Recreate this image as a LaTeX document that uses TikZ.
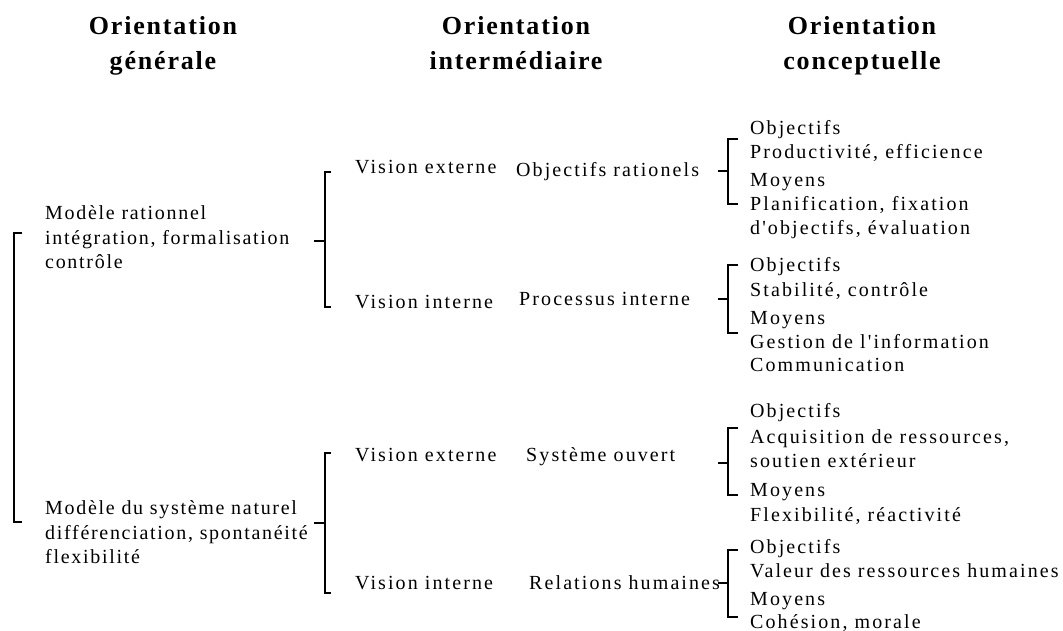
\documentclass[tikz,border=0pt]{standalone}
\usepackage{fontspec}
\setmainfont{Liberation Serif}[LetterSpace=10.5,Ligatures=TeXOff]
\newfontfamily\leftfont{Liberation Serif}[LetterSpace=8.5]
\newfontfamily\headfont{Liberation Serif}[LetterSpace=7]
\tikzset{
  txt/.style={inner sep=0, anchor=base west, font=\fontsize{20}{22}\selectfont},
  ltxt/.style={txt, font=\leftfont\fontsize{20}{22}\selectfont},
  head/.style={inner sep=0, anchor=base, font=\headfont\bfseries\fontsize{26}{30}\selectfont},
  brk/.style={line width=2.8pt}
}
\begin{document}
\begin{tikzpicture}[x=1pt,y=-1pt]
\useasboundingbox (0,0) rectangle (1063,631);

% Headings
\node[head] (h1a) at (163,35) {Orientation};
\node[head] (h1b) at (163,70) {générale};
\node[head] (h2a) at (516,35) {Orientation};
\node[head] (h2b) at (516,70) {intermédiaire};
\node[head] (h3a) at (862,35) {Orientation};
\node[head] (h3b) at (862,70) {conceptuelle};

% Left column
\node[ltxt] (rat1) at (45,220) {Modèle rationnel};
\node[ltxt] (rat2) at (45,244) {intégration, formalisation};
\node[ltxt] (rat3) at (45,269) {contrôle};
\node[ltxt] (nat1) at (45,514) {Modèle du système naturel};
\node[ltxt] (nat2) at (45,539) {différenciation, spontanéité};
\node[ltxt] (nat3) at (45,563) {flexibilité};

% Middle column
\node[txt] (ve1) at (355,174) {Vision externe};
\node[txt] (vi1) at (355,308) {Vision interne};
\node[txt] (ve2) at (355,461) {Vision externe};
\node[txt] (vi2) at (355,589) {Vision interne};
\node[txt] (orat) at (516,177) {Objectifs rationels};
\node[txt] (proc) at (519,305) {Processus interne};
\node[txt] (sysv) at (526,461) {Système ouvert};
\node[txt] (relh) at (529,589) {Relations humaines};

% Right column
\node[txt] (a1) at (750,135) {Objectifs};
\node[txt] (a2) at (750,159) {Productivité, efficience};
\node[txt] (a3) at (750,187) {Moyens};
\node[txt] (a4) at (750,211) {Planification, fixation};
\node[txt] (a5) at (750,235) {d'objectifs, évaluation};

\node[txt] (b1) at (750,272) {Objectifs};
\node[txt] (b2) at (750,296) {Stabilité, contrôle};
\node[txt] (b3) at (750,324) {Moyens};
\node[txt] (b4) at (750,348) {Gestion de l'information};
\node[txt] (b5) at (750,371) {Communication};

\node[txt] (c1) at (750,417) {Objectifs};
\node[txt] (c2) at (750,443) {Acquisition de ressources,};
\node[txt] (c3) at (750,467) {soutien extérieur};
\node[txt] (c4) at (750,496) {Moyens};
\node[txt] (c5) at (750,521) {Flexibilité, réactivité};

\node[txt] (d1) at (750,553) {Objectifs};
\node[txt] (d2) at (750,577) {Valeur des ressources humaines};
\node[txt] (d3) at (750,605) {Moyens};
\node[txt] (d4) at (750,628) {Cohésion, morale};

% Brackets
\draw[brk] (22,233) -- (14,233) -- (14,522) -- (22,522);

\draw[brk] (331,172) -- (325,172) -- (325,307) -- (331,307);
\draw[brk] (314,241) -- (325,241);
\draw[brk] (331,453) -- (325,453) -- (325,593) -- (331,593);
\draw[brk] (314,523) -- (325,523);

\draw[brk] (738,139) -- (728,139) -- (728,204) -- (738,204);
\draw[brk] (718,171) -- (728,171);
\draw[brk] (738,265) -- (728,265) -- (728,333) -- (738,333);
\draw[brk] (718,299) -- (728,299);
\draw[brk] (738,428) -- (728,428) -- (728,495) -- (738,495);
\draw[brk] (718,463) -- (728,463);
\draw[brk] (738,550) -- (728,550) -- (728,617) -- (738,617);
\draw[brk] (718,583) -- (728,583);
\end{tikzpicture}
\end{document}
